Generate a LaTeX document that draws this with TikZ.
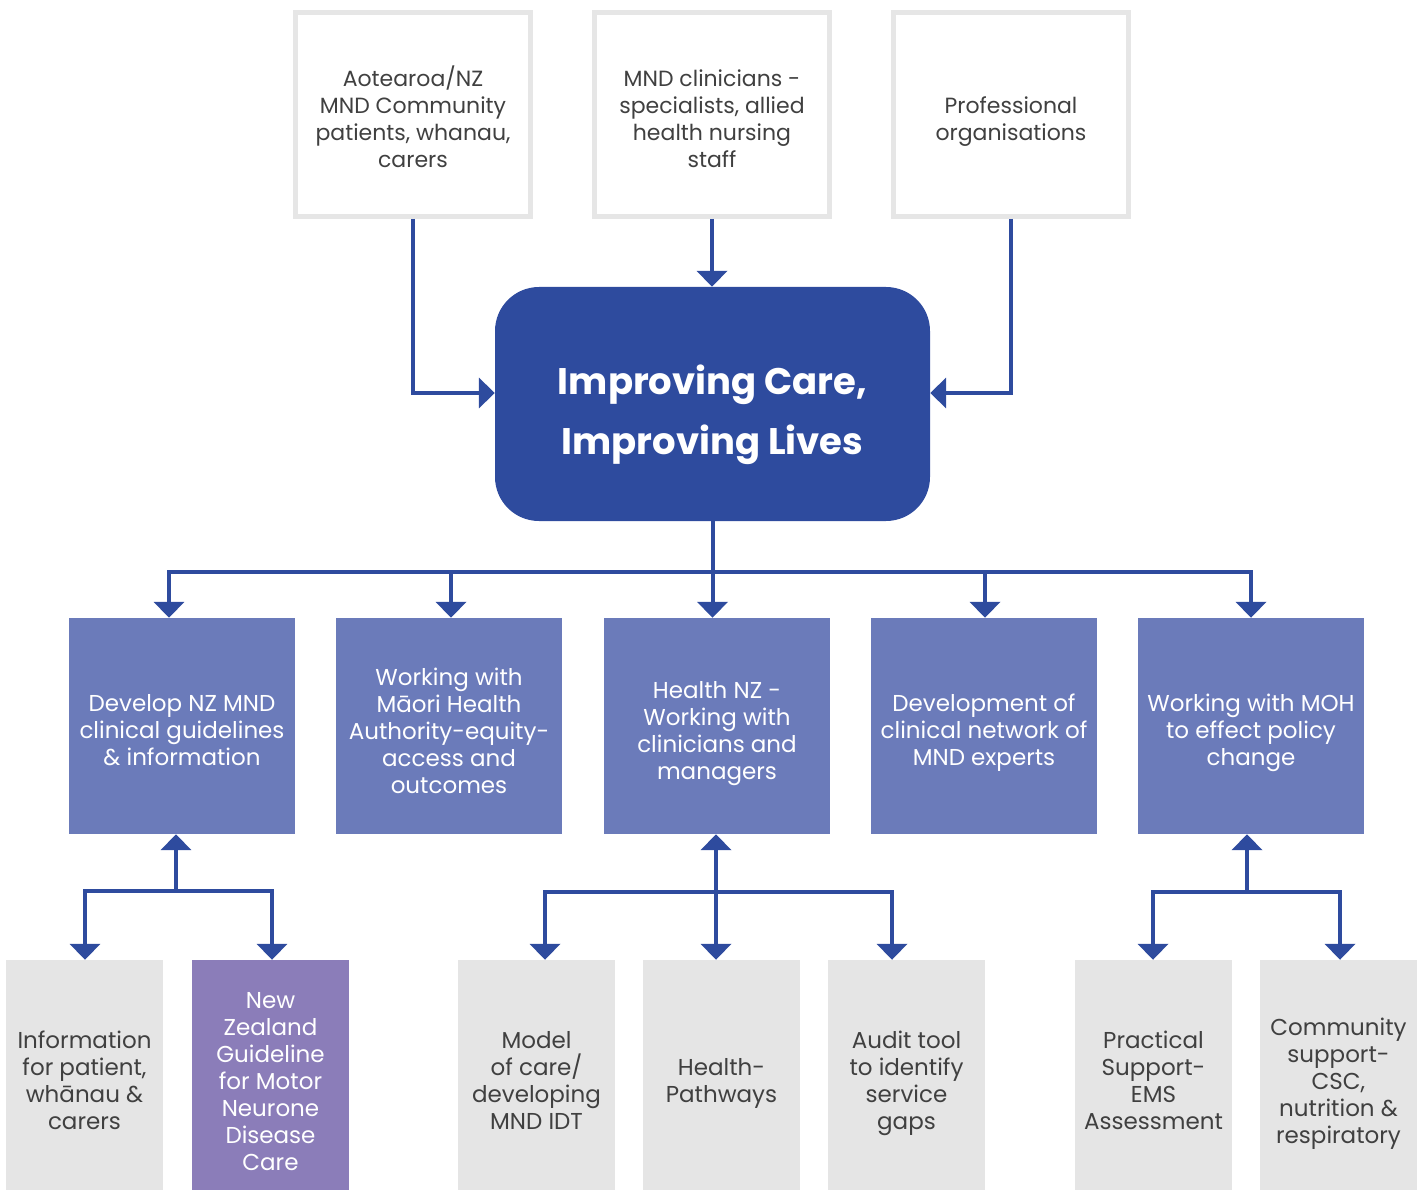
\documentclass[tikz,border=0pt]{standalone}
\usepackage{fontspec}
\setmainfont{Poppins}
\usetikzlibrary{arrows.meta}
\definecolor{navy}{HTML}{2E4B9E}
\definecolor{midblue}{HTML}{6B7BBA}
\definecolor{lilac}{HTML}{8B7DB9}
\definecolor{lightgray}{HTML}{E5E5E5}
\definecolor{framegray}{HTML}{E6E6E6}
\definecolor{ink}{HTML}{404040}
\begin{document}
\begin{tikzpicture}[x=1pt,y=-1pt,
  srcbox/.style={draw=framegray, line width=5pt, fill=white, minimum width=235pt, minimum height=204pt, inner sep=0pt},
  srctext/.style={align=center, text=ink, inner sep=0pt, font=\fontsize{22}{27}\selectfont},
  hub/.style={fill=navy, rounded corners=44pt, minimum width=435pt, minimum height=234pt, inner sep=0pt},
  hubtext/.style={align=center, text=white, inner sep=0pt, font=\fontsize{37}{60}\selectfont\bfseries},
  goalbox/.style={fill=midblue, minimum width=226pt, minimum height=216pt, inner sep=0pt},
  goaltext/.style={align=center, text=white, inner sep=0pt, font=\fontsize{23}{27}\selectfont},
  taskbox/.style={fill=lightgray, minimum width=157pt, minimum height=230pt, inner sep=0pt},
  tasktext/.style={align=center, text=ink, inner sep=0pt, font=\fontsize{23}{27}\selectfont},
  keybox/.style={taskbox, fill=lilac},
  keytext/.style={tasktext, text=white},
  link/.style={draw=navy, line width=4pt},
  arr/.style={link, -{Triangle[width=30pt,length=16pt]}},
  dbl/.style={link, {Triangle[width=30pt,length=16pt]}-{Triangle[width=30pt,length=16pt]}},
]
\useasboundingbox (0,0) rectangle (1424,1190);

% contributors
\node[srcbox] (t1) at (413,114.5) {};
\node[srctext] (t1txt) at ([yshift=-2.5pt]t1.center) {Aotearoa/NZ\\MND Community\\patients, whanau,\\carers};
\node[srcbox] (t2) at (712,114.5) {};
\node[srctext] (t2txt) at ([yshift=-4.5pt]t2.center) {MND clinicians -\\specialists, allied\\health nursing\\staff};
\node[srcbox] (t3) at (1011,114.5) {};
\node[srctext] (t3txt) at ([yshift=-7pt]t3.center) {Professional\\organisations};

% central aim
\node[hub] (hub) at (712.5,404) {};
\node[hubtext] (hubtxt) at ([yshift=-11pt]hub.center) {Improving Care,\\Improving Lives};

% workstreams
\node[goalbox] (g1) at (182,726) {};
\node[goaltext] (g1txt) at ([yshift=-4pt]g1.center) {Develop NZ MND\\clinical guidelines\\\& information};
\node[goalbox] (g2) at (449,726) {};
\node[goaltext] (g2txt) at ([yshift=-4.5pt]g2.center) {Working with\\Māori Health\\Authority-equity-\\access and\\outcomes};
\node[goalbox] (g3) at (717,726) {};
\node[goaltext] (g3txt) at ([yshift=-8pt]g3.center) {Health NZ -\\Working with\\clinicians and\\managers};
\node[goalbox] (g4) at (984,726) {};
\node[goaltext] (g4txt) at ([yshift=-7pt]g4.center) {Development of\\clinical network of\\MND experts};
\node[goalbox] (g5) at (1251,726) {};
\node[goaltext] (g5txt) at ([yshift=-7pt]g5.center) {Working with MOH\\to effect policy\\change};

% outputs
\node[taskbox] (b1) at (84.5,1075) {};
\node[tasktext] (b1txt) at ([yshift=-5pt]b1.center) {Information\\for patient,\\whānau \&\\carers};
\node[keybox] (b2) at (270.5,1075) {};
\node[keytext] (b2txt) at ([yshift=-6.5pt]b2.center) {New\\Zealand\\Guideline\\for Motor\\Neurone\\Disease\\Care};
\node[taskbox] (b3) at (536.5,1075) {};
\node[tasktext] (b3txt) at ([yshift=-5pt]b3.center) {Model\\of care/\\developing\\MND IDT};
\node[taskbox] (b4) at (721.5,1075) {};
\node[tasktext] (b4txt) at ([yshift=-8pt]b4.center) {Health-\\Pathways};
\node[taskbox] (b5) at (906.5,1075) {};
\node[tasktext] (b5txt) at ([yshift=-8pt]b5.center) {Audit tool\\to identify\\service\\gaps};
\node[taskbox] (b6) at (1153.5,1075) {};
\node[tasktext] (b6txt) at ([yshift=-5pt]b6.center) {Practical\\Support-\\EMS\\Assessment};
\node[taskbox] (b7) at (1338.5,1075) {};
\node[tasktext] (b7txt) at ([yshift=-9pt]b7.center) {Community\\support-\\CSC,\\nutrition \&\\respiratory};

% inputs to the hub
\draw[arr] (t1.south) |- ([yshift=11pt]hub.west);
\draw[arr] (t2.south) -- (t2.south |- hub.north);
\draw[arr] (t3.south) |- ([yshift=11pt]hub.east);

% hub to workstreams
\coordinate (bus) at (712.5,572);
\draw[link] (hub.south) -- (bus);
\draw[arr] (bus) -| ([xshift=-13pt]g1.north);
\draw[arr] (bus) -| ([xshift=2pt]g2.north);
\draw[arr] (bus) -- (bus |- g3.north);
\draw[arr] (bus) -| ([xshift=1pt]g4.north);
\draw[arr] (bus) -| (g5.north);

% guideline outputs
\coordinate (j1) at (176,891);
\draw[arr] (j1) -- (j1 |- g1.south);
\draw[arr] (j1) -| ([xshift=0.5pt]b1.north);
\draw[arr] (j1) -| ([xshift=1.5pt]b2.north);

% Health NZ outputs
\coordinate (j3) at (716,892);
\draw[dbl] (j3 |- g3.south) -- (j3 |- b4.north);
\draw[arr] (j3) -| ([xshift=8.5pt]b3.north);
\draw[arr] (j3) -| ([xshift=-14.5pt]b5.north);

% MOH outputs
\coordinate (j5) at (1247,892);
\draw[arr] (j5) -- (j5 |- g5.south);
\draw[arr] (j5) -| ([xshift=-0.5pt]b6.north);
\draw[arr] (j5) -| ([xshift=1.5pt]b7.north);
\end{tikzpicture}
\end{document}
